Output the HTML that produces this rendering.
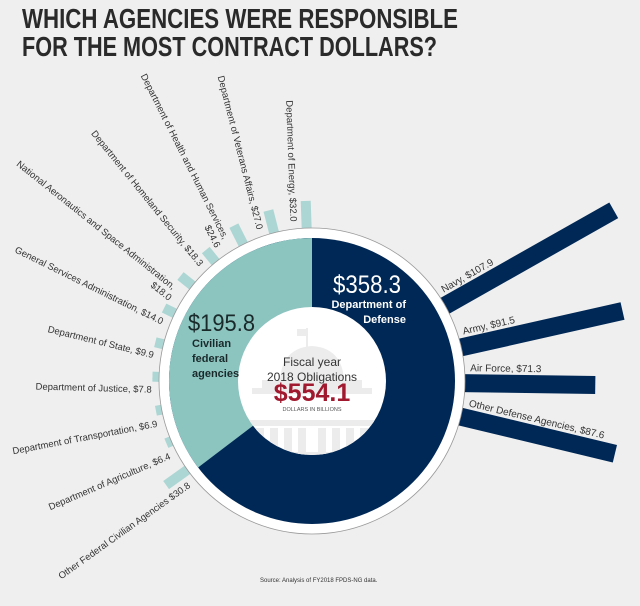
<!DOCTYPE html>
<html><head><meta charset="utf-8"><style>
html,body{margin:0;padding:0;background:#efefef;}
svg{display:block;}
text{font-family:"Liberation Sans Narrow","Liberation Sans",sans-serif;}
</style></head><body>
<svg width="640" height="606" viewBox="0 0 640 606" xmlns="http://www.w3.org/2000/svg">
<rect width="640" height="606" fill="#efefef"/>
<text x="22" y="28" font-size="28" font-weight="bold" fill="#2a2a2a" textLength="436" lengthAdjust="spacingAndGlyphs">WHICH AGENCIES WERE RESPONSIBLE</text>
<text x="22" y="56" font-size="28" font-weight="bold" fill="#2a2a2a" textLength="415" lengthAdjust="spacingAndGlyphs">FOR THE MOST CONTRACT DOLLARS?</text>

<g transform="translate(312,381)" fill="#acd6d3" font-size="9.5">
 <g transform="rotate(88)"><rect x="-180.2" y="-5" width="30.2" height="10"/><text x="-160" y="16" text-anchor="end" fill="#333">Department of Energy, $32.0</text></g>
 <g transform="rotate(75.65)"><rect x="-176" y="-5" width="26" height="10"/><text x="-160" y="16" text-anchor="end" fill="#333">Department of Veterans Affairs, $27.0</text></g>
 <g transform="rotate(63.3)"><rect x="-173.9" y="-5" width="23.9" height="10"/><text x="-166" y="16" text-anchor="end" fill="#333">Department of Health and Human Services,</text><text x="-162" y="27" text-anchor="end" fill="#333">$24.6</text></g>
 <g transform="rotate(50.95)"><rect x="-168.6" y="-5" width="18.6" height="10"/><text x="-160" y="16" text-anchor="end" fill="#333">Department of Homeland Security, $18.3</text></g>
 <g transform="rotate(38.6)"><rect x="-168.3" y="-5" width="18.3" height="10"/><text x="-166" y="16" text-anchor="end" fill="#333">National Aeronautics and Space Administration,</text><text x="-162" y="27" text-anchor="end" fill="#333">$18.0</text></g>
 <g transform="rotate(26.25)"><rect x="-164.9" y="-5" width="14.9" height="10"/><text x="-160" y="16" text-anchor="end" fill="#333">General Services Administration, $14.0</text></g>
 <g transform="rotate(13.9)"><rect x="-161.4" y="-5" width="11.4" height="10"/><text x="-160" y="16" text-anchor="end" fill="#333">Department of State, $9.9</text></g>
 <g transform="rotate(1.55)"><rect x="-159.6" y="-5" width="9.6" height="10"/><text x="-160" y="16" text-anchor="end" fill="#333">Department of Justice, $7.8</text></g>
 <g transform="rotate(-10.8)"><rect x="-158.9" y="-5" width="8.9" height="10"/><text x="-160" y="16" text-anchor="end" fill="#333">Department of Transportation, $6.9</text></g>
 <g transform="rotate(-23.15)"><rect x="-158.4" y="-5" width="8.4" height="10"/><text x="-160" y="16" text-anchor="end" fill="#333">Department of Agriculture, $6.4</text></g>
 <g transform="rotate(-35.5)"><rect x="-179.2" y="-5" width="29.2" height="10"/><text x="-160" y="16" text-anchor="end" fill="#333">Other Federal Civilian Agencies $30.8</text></g>
</g>

<g transform="translate(312,381)" fill="#002856" font-size="10">
 <g transform="rotate(-29.5)"><rect x="150" y="-9" width="196.7" height="18"/><text x="158" y="-12" fill="#333">Navy, $107.9</text></g>
 <g transform="rotate(-12.7)"><rect x="150" y="-9" width="168.3" height="18"/><text x="158" y="-12" fill="#333">Army, $91.5</text></g>
 <g transform="rotate(0.8)"><rect x="150" y="-9" width="133.3" height="18"/><text x="158" y="-12" fill="#333">Air Force, $71.3</text></g>
 <g transform="rotate(13.5)"><rect x="150" y="-9" width="161.5" height="18"/><text x="158" y="-12" fill="#333">Other Defense Agencies,  $87.6</text></g>
</g>

<circle cx="312" cy="381" r="153" fill="#fff" stroke="#999" stroke-width="0.8"/>
<circle cx="312" cy="381" r="143" fill="#002856"/>
<path d="M312 381 L312 238 A143 143 0 0 0 198.1 467.5 Z" fill="#8cc4c0"/>
<circle cx="312" cy="381" r="74" fill="#fff"/>
<clipPath id="c"><circle cx="312" cy="381" r="74"/></clipPath>
<g clip-path="url(#c)" fill="#ececec">
 <rect x="306" y="328" width="2" height="20"/>
 <rect x="297" y="329" width="10" height="7"/>
 <path d="M280 380 Q282 348 312 346 Q342 348 344 380 Z"/>
 <rect x="262" y="380" width="100" height="8"/>
 <rect x="252" y="388" width="120" height="6"/>
 <rect x="250" y="420" width="124" height="6"/>
 <rect x="256" y="428" width="8" height="30"/><rect x="270" y="428" width="8" height="30"/><rect x="284" y="428" width="8" height="30"/><rect x="298" y="428" width="8" height="30"/><rect x="318" y="428" width="8" height="30"/><rect x="332" y="428" width="8" height="30"/><rect x="346" y="428" width="8" height="30"/><rect x="360" y="428" width="8" height="30"/>
 <rect x="240" y="452" width="144" height="8"/>
</g>
<text x="312" y="366" font-size="12" text-anchor="middle" fill="#333">Fiscal year</text>
<text x="312" y="381" font-size="12" text-anchor="middle" fill="#333">2018 Obligations</text>
<text x="312" y="401" font-size="25" font-weight="bold" text-anchor="middle" fill="#a0192e">$554.1</text>
<text x="312" y="411" font-size="5.5" text-anchor="middle" fill="#555">DOLLARS IN BILLIONS</text>

<text x="333" y="293" font-size="25" fill="#fff" textLength="68" lengthAdjust="spacingAndGlyphs">$358.3</text>
<text x="406" y="308" font-size="11" font-weight="bold" text-anchor="end" fill="#fff">Department of</text>
<text x="406" y="323" font-size="11" font-weight="bold" text-anchor="end" fill="#fff">Defense</text>

<text x="188" y="331" font-size="24" fill="#1a2a2a" textLength="67" lengthAdjust="spacingAndGlyphs">$195.8</text>
<text x="192" y="347" font-size="11" font-weight="bold" fill="#1a2a2a">Civilian</text>
<text x="192" y="362" font-size="11" font-weight="bold" fill="#1a2a2a">federal</text>
<text x="192" y="377" font-size="11" font-weight="bold" fill="#1a2a2a">agencies</text>

<text x="260" y="582" font-size="6" fill="#333">Source: Analysis of FY2018 FPDS-NG data.</text>
</svg>
</body></html>
